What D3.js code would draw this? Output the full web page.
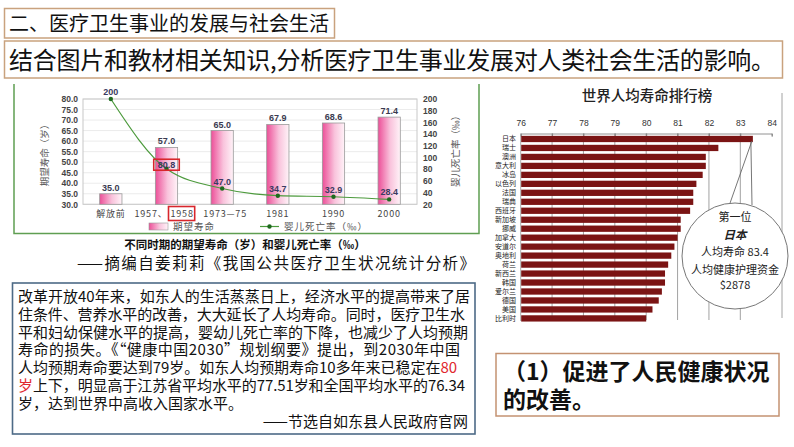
<!DOCTYPE html>
<html><head><meta charset="utf-8">
<script src="https://cdn.jsdelivr.net/npm/d3@7"></script>
<style>
html,body{margin:0;padding:0;background:#fff;}
svg{display:block;font-family:"Noto Sans CJK SC","Noto Sans",sans-serif;}
</style></head>
<body>
<svg id="c" width="794" height="447"></svg>
<script>
// ---------- data ----------
const periods = ["解放前", "1957、1958", "1973—75", "1981", "1990", "2000"];
const lifeExpectancy = [35.0, 57.0, 65.0, 67.9, 68.6, 71.4];
const infantMortality = [200, 80.8, 47.0, 34.7, 32.9, 28.4];
const lifeTicks = [30, 35, 40, 45, 50, 55, 60, 65, 70, 75, 80];
const mortTicks = [20, 40, 60, 80, 100, 120, 140, 160, 180, 200];

const countries = ["日本","瑞士","澳洲","意大利","冰岛","以色列","法国","瑞典","西班牙","新加坡","挪威","加拿大","安道尔","奥地利","荷兰","新西兰","韩国","爱尔兰","德国","美国","比利时"];
const worldLife = [83.4, 82.3, 81.9, 81.9, 81.8, 81.6, 81.5, 81.5, 81.4, 81.1, 81.1, 81.0, 80.9, 80.8, 80.7, 80.6, 80.6, 80.5, 80.4, 80.2, 80.0];
const rankTicks = [76, 77, 78, 79, 80, 81, 82, 83, 84];

const passage = [
  "改革开放40年来，如东人的生活蒸蒸日上，经济水平的提高带来了居",
  "住条件、营养水平的改善，大大延长了人均寿命。同时，医疗卫生水",
  "平和妇幼保健水平的提高，婴幼儿死亡率的下降，也减少了人均预期",
  "寿命的损失。《“健康中国2030”规划纲要》提出，到2030年中国",
  "人均预期寿命要达到79岁。如东人均预期寿命10多年来已稳定在|80",
  "|岁|上下，明显高于江苏省平均水平的77.51岁和全国平均水平的76.34",
  "岁，达到世界中高收入国家水平。"
];
const answerLines = ["（1）促进了人民健康状况", "的改善。"];

const svg = d3.select("#c");

// ---------- header boxes ----------
svg.append("rect").attr("x",4.5).attr("y",8.5).attr("width",330).attr("height",29.5)
  .attr("fill","#fff").attr("stroke","#c9a27e").attr("stroke-width",1.5);
svg.append("text").attr("x",9).attr("y",31).attr("font-size",20).attr("fill","#111")
  .text("二、医疗卫生事业的发展与社会生活");
svg.append("rect").attr("x",4.5).attr("y",41).attr("width",778).attr("height",37)
  .attr("fill","#fff").attr("stroke","#c9a27e").attr("stroke-width",1.5);
svg.append("text").attr("x",9).attr("y",69).attr("font-size",24).attr("fill","#111")
  .attr("textLength",766).attr("lengthAdjust","spacing")
  .text("结合图片和教材相关知识,分析医疗卫生事业发展对人类社会生活的影响。");

// ---------- left chart ----------
const defs = svg.append("defs");
const grad = defs.append("linearGradient").attr("id","pinkg").attr("x1","0").attr("x2","1").attr("y1","0").attr("y2","0");
grad.append("stop").attr("offset","0").attr("stop-color","#ec4f98");
grad.append("stop").attr("offset","0.55").attr("stop-color","#f9c3dc");
grad.append("stop").attr("offset","1").attr("stop-color","#fff3f8");

// green frame
svg.append("path").attr("d","M14,84 V233.5 H479 V84").attr("fill","none").attr("stroke","#5f9e52").attr("stroke-width",1.5);

const xL = d3.scaleBand().domain(periods).range([83, 417]);
const yL = d3.scaleLinear().domain([30, 80]).range([204.3, 99]);
const yR = d3.scaleLinear().domain([20, 200]).range([204.3, 99]);
const gL = svg.append("g");

// gridlines & frame
gL.selectAll("line.grid").data(lifeTicks).join("line")
  .attr("x1",83).attr("x2",417).attr("y1",d=>yL(d)).attr("y2",d=>yL(d))
  .attr("stroke","#e6e6e6").attr("stroke-width",0.8);
gL.append("rect").attr("x",83).attr("y",99).attr("width",334).attr("height",yL(30)-99)
  .attr("fill","none").attr("stroke","#c8c8c8").attr("stroke-width",1);

// left axis
const axL = gL.append("g").attr("transform","translate(83,0)")
  .call(d3.axisLeft(yL).tickValues(lifeTicks).tickFormat(d3.format(".1f")).tickSize(0).tickPadding(5));
axL.select(".domain").remove();
axL.selectAll("text").attr("font-size",8.5).attr("font-weight","bold").attr("fill","#444").attr("font-family","Liberation Sans, Arial, sans-serif");
// right axis
const axR = gL.append("g").attr("transform","translate(417,0)")
  .call(d3.axisRight(yR).tickValues(mortTicks).tickSize(0).tickPadding(6));
axR.select(".domain").remove();
axR.selectAll("text").attr("font-size",8.5).attr("font-weight","bold").attr("fill","#444").attr("font-family","Liberation Sans, Arial, sans-serif");
// bottom axis
const axB = gL.append("g").attr("transform",`translate(0,${yL(30)})`)
  .call(d3.axisBottom(xL).tickSize(0).tickPadding(6).tickFormat(()=>""));
axB.select(".domain").remove();

// axis titles
gL.append("text").attr("transform","translate(48,153) rotate(-90)").attr("text-anchor","middle")
  .attr("font-size",9.5).attr("fill","#555").text("期望寿命（岁）");
gL.append("text").attr("transform","translate(459,149) rotate(-90)").attr("text-anchor","middle")
  .attr("font-size",9.5).attr("fill","#555").text("婴儿死亡率（‰）");

// bars
const bw = xL.bandwidth()*0.4;
const cx = d => xL(d) + xL.bandwidth()/2;
gL.selectAll("rect.bar").data(periods).join("rect").attr("class","bar")
  .attr("x",d=>cx(d)-bw/2).attr("width",bw)
  .attr("y",(d,i)=>yL(lifeExpectancy[i])).attr("height",(d,i)=>yL(30)-yL(lifeExpectancy[i]))
  .attr("fill","url(#pinkg)").attr("stroke","#9a9a9a").attr("stroke-width",0.8);
gL.selectAll("text.bl").data(periods).join("text").attr("class","bl")
  .attr("x",d=>cx(d)).attr("y",(d,i)=>yL(lifeExpectancy[i])-3).attr("text-anchor","middle")
  .attr("font-size",9).attr("font-weight","bold").attr("fill","#3a3a50").attr("font-family","Liberation Sans, Arial, sans-serif")
  .text((d,i)=>lifeExpectancy[i].toFixed(1));

// x labels
periods.forEach((p,i)=>{
  if (p.includes("、")) {
    const [a,b] = p.split("、");
    gL.append("text").attr("x",cx(p)+1).attr("y",217).attr("text-anchor","end")
      .attr("font-size",9).attr("fill","#444").attr("letter-spacing",0.8).text(a+"、");
    const t = gL.append("text").attr("x",cx(p)+4).attr("y",217).attr("text-anchor","start")
      .attr("font-size",9).attr("fill","#444").attr("letter-spacing",0.8).text(b);
    const bb = t.node().getBBox();
    gL.append("rect").attr("x",bb.x-2).attr("y",bb.y-0.5).attr("width",bb.width+3).attr("height",bb.height+1)
      .attr("fill","none").attr("stroke","#d8262c").attr("stroke-width",1.6);
  } else {
    gL.append("text").attr("x",cx(p) + (i===2?3:0)).attr("y",217).attr("text-anchor","middle")
      .attr("font-size",9).attr("fill","#444").attr("letter-spacing",0.8).text(p);
  }
});

// line
const lineGen = d3.line().x(d=>cx(d.p)).y(d=>yR(d.v)).curve(d3.curveMonotoneX);
const lineData = periods.map((p,i)=>({p, v: infantMortality[i]}));
gL.append("path").datum(lineData).attr("d",lineGen).attr("fill","none").attr("stroke","#4c9a3c").attr("stroke-width",1.2);
gL.selectAll("circle.pt").data(lineData).join("circle")
  .attr("cx",d=>cx(d.p)).attr("cy",d=>yR(d.v)).attr("r",2.2).attr("fill","#1e6a1e");
lineData.forEach((d,i)=>{
  const t = gL.append("text").attr("x",cx(d.p)).attr("y",yR(d.v)-(i===1?0.5:4)).attr("text-anchor","middle")
    .attr("font-size",9).attr("font-weight","bold").attr("fill","#3a3a60").attr("font-family","Liberation Sans, Arial, sans-serif")
    .text(d.v===200?"200":d.v.toFixed(1));
  if (i===1) {
    const bb = t.node().getBBox();
    gL.append("rect").attr("x",bb.x-4).attr("y",bb.y-1).attr("width",bb.width+8).attr("height",bb.height+1)
      .attr("fill","none").attr("stroke","#d8262c").attr("stroke-width",1.6);
  }
});

// legend
gL.append("rect").attr("x",149).attr("y",223).attr("width",19).attr("height",7)
  .attr("fill","url(#pinkg)").attr("stroke","#9a9a9a").attr("stroke-width",0.6);
gL.append("text").attr("x",173).attr("y",230).attr("font-size",9.5).attr("fill","#555").attr("letter-spacing",1).text("期望寿命");
gL.append("line").attr("x1",260).attr("x2",279).attr("y1",226.5).attr("y2",226.5).attr("stroke","#4c9a3c").attr("stroke-width",1.2);
gL.append("circle").attr("cx",269.5).attr("cy",226.5).attr("r",2.2).attr("fill","#1e6a1e");
gL.append("text").attr("x",284).attr("y",230).attr("font-size",9.5).attr("fill","#555").attr("letter-spacing",1).text("婴儿死亡率（‰）");

// captions
svg.append("text").attr("x",245).attr("y",249).attr("text-anchor","middle").attr("font-size",11.5)
  .attr("font-weight","bold").attr("fill","#111").text("不同时期的期望寿命（岁）和婴儿死亡率（‰）");
svg.append("text").attr("x",77).attr("y",269).attr("font-size",15.5).attr("fill","#111")
  .attr("textLength",398).attr("lengthAdjust","spacing").text("——摘编自姜莉莉《我国公共医疗卫生状况统计分析》");

// ---------- passage box ----------
svg.append("rect").attr("x",12.5).attr("y",283).attr("width",462.5).attr("height",151)
  .attr("fill","#fff").attr("stroke","#4d6a86").attr("stroke-width",1.6);
const lineEnds = [452, 447, 450, 442, 439, 447];
passage.forEach((ln,i)=>{
  const t = svg.append("text").attr("x",18).attr("y",302+i*17.8).attr("font-size",15).attr("fill","#111");
  if (i < lineEnds.length) t.attr("textLength",lineEnds[i]).attr("lengthAdjust","spacing");
  const parts = ln.split("|");
  parts.forEach((p,j)=>{
    if (p === "") return;
    const red = (i===4 && j===1) || (i===5 && j===1);
    t.append("tspan").attr("fill", red ? "#e0282e" : "#111").text(p);
  });
});
svg.append("text").attr("x",468).attr("y",427).attr("text-anchor","end").attr("font-size",15).attr("fill","#111")
  .text("——节选自如东县人民政府官网");

// ---------- right ranking chart ----------
const xW = d3.scaleLinear().domain([76, 84]).range([520.7, 771.7]);
const yW = d3.scaleBand().domain(countries).range([134.5, 322.9]).paddingInner(0.3).paddingOuter(0.15);
const gR = svg.append("g");

gR.append("text").attr("x",647).attr("y",101).attr("text-anchor","middle").attr("font-size",14.5)
  .attr("font-weight",500).attr("fill","#222").text("世界人均寿命排行榜");

gR.selectAll("line.vg").data(rankTicks.filter(d=>d>76 && d<84)).join("line")
  .attr("x1",d=>xW(d)).attr("x2",d=>xW(d)).attr("y1",133.5).attr("y2",320)
  .attr("stroke","#8a8a8a").attr("stroke-width",0.8);
gR.append("line").attr("x1",782).attr("x2",782).attr("y1",93).attr("y2",318).attr("stroke","#8a8a8a").attr("stroke-width",0.8);

const axT = gR.append("g").attr("transform","translate(0,133.5)")
  .call(d3.axisTop(xW).tickValues(rankTicks).tickSize(-3).tickPadding(8).tickFormat(d3.format("d")));
axT.select(".domain").attr("stroke","#777").attr("stroke-width",0.8);
axT.selectAll(".tick line").attr("stroke","#777").attr("stroke-width",0.8);
axT.selectAll("text").attr("font-size",8.5).attr("fill","#333").attr("font-family","Liberation Sans, Arial, sans-serif");

gR.append("line").attr("x1",520.7).attr("x2",520.7).attr("y1",133.5).attr("y2",321).attr("stroke","#999").attr("stroke-width",0.8);

gR.selectAll("rect.wb").data(countries).join("rect").attr("class","wb")
  .attr("x",xW(76)+0.5).attr("y",d=>yW(d)).attr("height",yW.bandwidth())
  .attr("width",(d,i)=>xW(worldLife[i])-xW(76)-0.5).attr("fill","#7b1414");
gR.selectAll("text.cl").data(countries).join("text").attr("class","cl")
  .attr("x",516).attr("y",d=>yW(d)+yW.bandwidth()/2+2.5).attr("text-anchor","end")
  .attr("font-size",7).attr("fill","#222").text(d=>d);

// callout
const firstCountry = countries[0];
const bx = xW(worldLife[0]), by = yW(firstCountry)+yW.bandwidth()/2;
gR.append("path").attr("d",`M${bx-1},${by+2} L729,206 M${bx-2},${by+3} L752,205`)
  .attr("fill","none").attr("stroke","#666").attr("stroke-width",0.9);
gR.append("circle").attr("cx",735).attr("cy",256).attr("r",53).attr("fill","#fff").attr("stroke","#777").attr("stroke-width",1);
const calloutLines = ["第一位", firstCountry, "人均寿命 " + worldLife[0], "人均健康护理资金", "$2878"];
const cy0 = [221, 239, 256, 274, 289];
const ctext = gR.append("text").attr("text-anchor","middle").attr("font-size",11).attr("fill","#222");
calloutLines.forEach((s,i)=>{
  const ts = ctext.append("tspan").attr("x",735).attr("y",cy0[i]).text(s);
  if (i===1) ts.attr("font-weight","bold").attr("font-style","italic").attr("font-size",11.5);
});

// ---------- answer box ----------
svg.append("rect").attr("x",496).attr("y",353.5).attr("width",283).attr("height",62.5)
  .attr("fill","#fff").attr("stroke","#c49272").attr("stroke-width",1.5);
const atext = svg.append("text").attr("font-size",23).attr("font-weight","bold").attr("fill","#111");
answerLines.forEach((s,i)=>{
  atext.append("tspan").attr("x",503).attr("y",380+i*28).text(s);
});
</script>
</body></html>
